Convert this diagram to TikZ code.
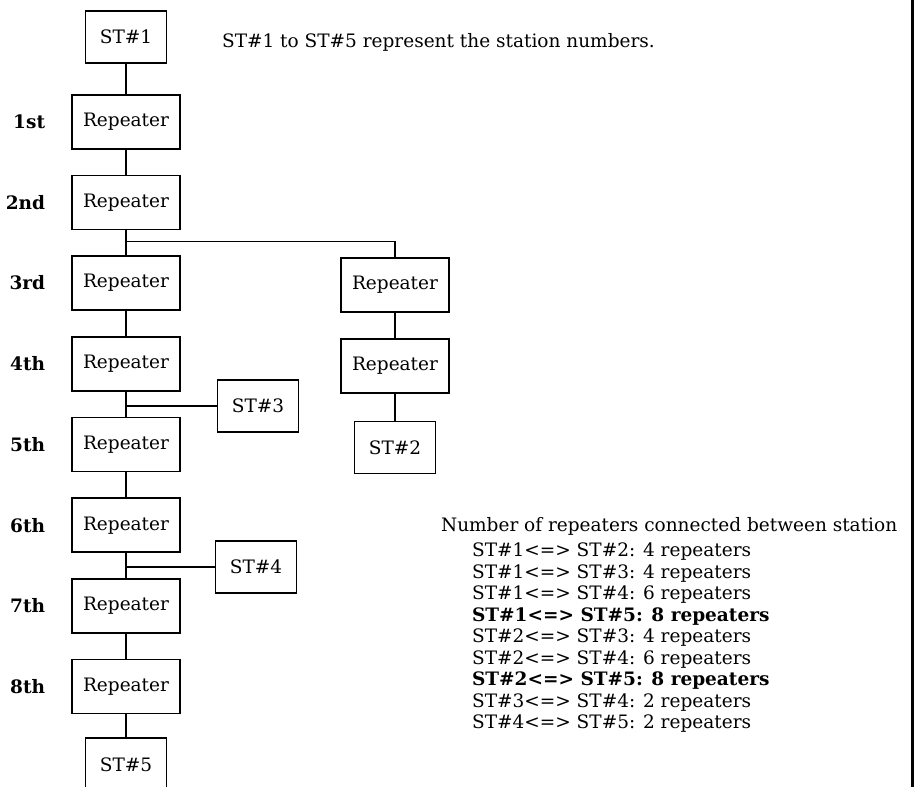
\documentclass[tikz,border=0pt]{standalone}
\usepackage{fontspec}
\setmainfont{DejaVu Serif}
\usetikzlibrary{positioning}

\begin{document}
\begin{tikzpicture}[x=1pt,y=-1pt
  ,line width=1.5pt
  ,every node/.style={font=\fontsize{18.5}{22}\selectfont}]
  \tikzstyle{rep}=[draw,line width=1.7pt,minimum width=108pt,minimum height=54pt,inner sep=0pt]
  \tikzstyle{stn}=[draw,line width=1.7pt,minimum width=81pt,minimum height=52pt,inner sep=0pt]
  \tikzstyle{ord}=[font=\fontsize{18.5}{22}\selectfont\bfseries]

  \useasboundingbox (0,0) rectangle (914,787);

  % main chain ST#1 .. ST#5
  \node[stn] (st1) at (126,37) {ST\#1};
  \node[rep,below=30pt of st1] (r1) {Repeater};
  \foreach \i [remember=\i as \j (initially 1)] in {2,...,8}
    \node[rep,below=25pt of r\j] (r\i) {Repeater};
  \node[stn,below=23pt of r8] (st5) {ST\#5};

  % hop numbers
  \foreach \lbl [count=\i] in {1st,2nd,3rd,4th,5th,6th,7th,8th}
    \node[ord,left=22pt of r\i] (o\i) {\lbl};

  % branch to ST#2
  \coordinate[below=11pt of r2.south] (br);
  \node[rep] (ra) at (395,285) {Repeater};
  \node[rep,below=25pt of ra] (rb) {Repeater};
  \node[stn,below=27pt of rb] (st2) {ST\#2};

  % stations on the trunk
  \node[stn] (st3) at (258,406) {ST\#3};
  \node[stn] (st4) at (256,567) {ST\#4};

  \draw (st1) -- (r1);
  \foreach \i [remember=\i as \j (initially 1)] in {2,...,8}
    \draw (r\j) -- (r\i);
  \draw (r8) -- (st5);
  \draw (br) -| (ra);
  \draw (ra) -- (rb) -- (st2);
  \draw (st3.west) -- (st3.west -| r4.south);
  \draw (st4.west) -- (st4.west -| r6.south);

  % notes
  \node[anchor=base west] (note) at (218,47)
    {ST\#1 to ST\#5 represent the station numbers.};
  \node[anchor=base west] (title) at (437,531)
    {Number of repeaters connected between station};
  \foreach \txt [count=\i] in {ST\#1<=> ST\#2: 4 repeaters,
      ST\#1<=> ST\#3: 4 repeaters,
      ST\#1<=> ST\#4: 6 repeaters,
      {\bfseries ST\#1<=> ST\#5: 8 repeaters},
      ST\#2<=> ST\#3: 4 repeaters,
      ST\#2<=> ST\#4: 6 repeaters,
      {\bfseries ST\#2<=> ST\#5: 8 repeaters},
      ST\#3<=> ST\#4: 2 repeaters,
      ST\#4<=> ST\#5: 2 repeaters}
    \node[anchor=base west] (h\i) at (468,535+21.5*\i) {\txt};

  % page edge
  \coordinate (edgetop) at (912.5,0);
  \coordinate (edgebot) at (912.5,787);
  \draw[line width=3pt] (edgetop) -- (edgebot);
\end{tikzpicture}
\end{document}
